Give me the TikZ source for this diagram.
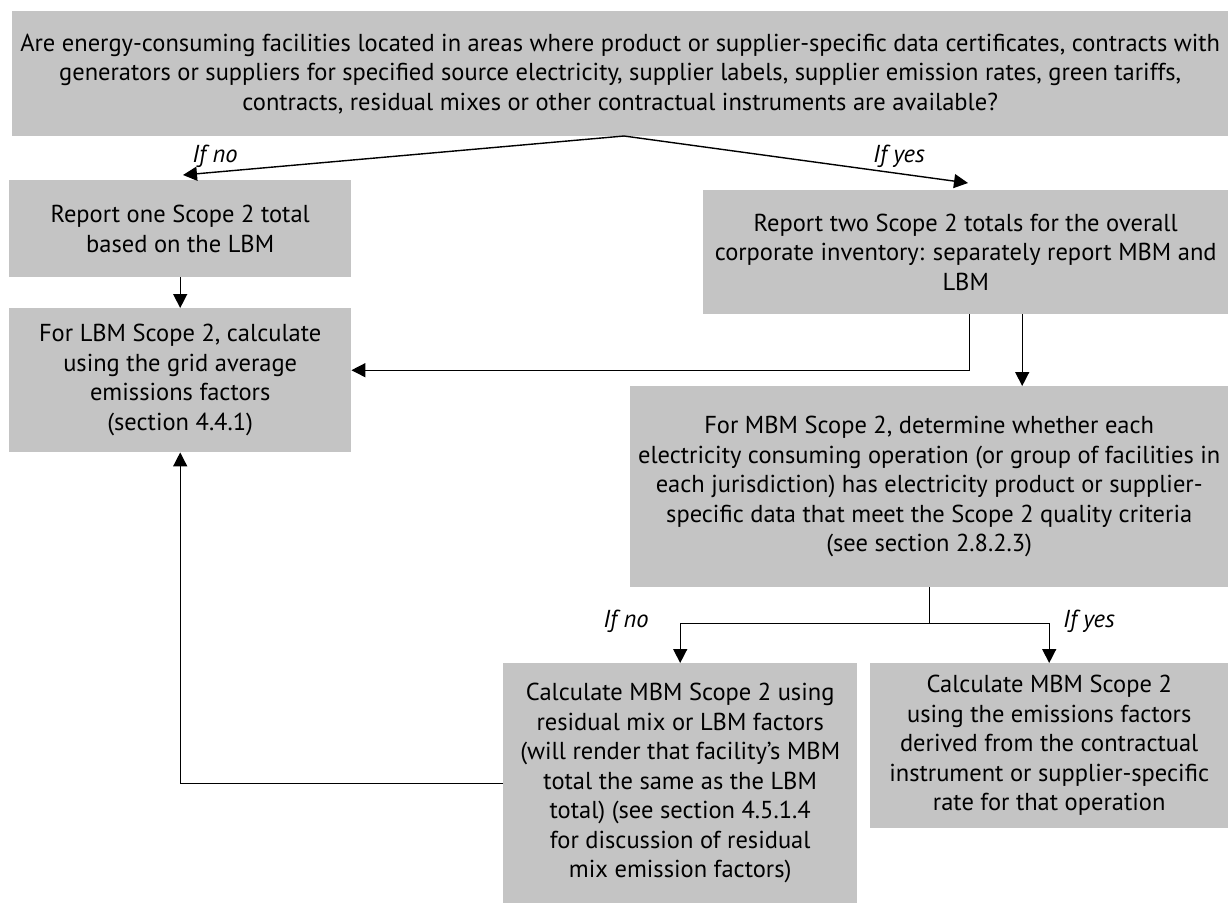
\documentclass[tikz,border=0pt]{standalone}
\usepackage{fontspec}
\setmainfont{PT Sans}
\usetikzlibrary{arrows.meta,calc}
\definecolor{boxgray}{RGB}{196,196,196}
\tikzset{
  box/.style={fill=boxgray, draw=none, anchor=north west, inner sep=0pt, align=center,
    font=\fontsize{24.5}{29.5}\selectfont},
  conn/.style={line width=1.4pt, draw=black},
  arr/.style={conn, -{Triangle[length=14pt,width=14pt]}},
  lbl/.style={font=\fontsize{24.5}{28}\selectfont\itshape, inner sep=0pt}
}
\begin{document}
\begin{tikzpicture}[x=1pt,y=1pt]
\useasboundingbox (0,0) rectangle (1228,-903);
% boxes
\node[box, minimum width=1216pt, minimum height=125pt] (top) at (12,-11)
  {Are energy-consuming facilities located in areas where product or supplier-specific data certificates, contracts with\\
   generators or suppliers for specified source electricity, supplier labels, supplier emission rates, green tariffs,\\
   contracts, residual mixes or other contractual instruments are available?};
\node[box, minimum width=342pt, minimum height=97pt] (b1) at (9,-180)
  {Report one Scope 2 total\\ based on the LBM};
\node[box, minimum width=342pt, minimum height=144pt] (b2) at (9,-308)
  {For LBM Scope 2, calculate\\ using the grid average\\ emissions factors\\ (section 4.4.1)};
\node[box, minimum width=525pt, minimum height=124pt] (r1) at (703,-190)
  {Report two Scope 2 totals for the overall\\ corporate inventory: separately report MBM and\\ LBM};
\node[box, minimum width=598pt, minimum height=201pt] (r2) at (630,-386)
  {For MBM Scope 2, determine whether each\\ electricity consuming operation (or group of facilities in\\ each jurisdiction) has electricity product or supplier-\\ specific data that meet the Scope 2 quality criteria\\ (see section 2.8.2.3)};
\node[box, minimum width=354pt, minimum height=240pt] (l3) at (503,-663)
  {Calculate MBM Scope 2 using\\ residual mix or LBM factors\\ (will render that facility’s MBM\\ total the same as the LBM\\ total) (see section 4.5.1.4\\ for discussion of residual\\ mix emission factors)};
\node[box, minimum width=358pt, minimum height=165pt] (r3) at (870,-663)
  {Calculate MBM Scope 2\\ using the emissions factors\\ derived from the contractual\\ instrument or supplier-specific\\ rate for that operation};
% free ends
\coordinate (apex) at (624,-136);
\coordinate (noend) at (183,-175);
\coordinate (yesend) at (968,-183);
% connectors
\draw[arr] (apex) -- (noend);
\draw[arr] (apex) -- (yesend);
\draw[arr] (b1.south) -- (b2.north);
\draw[arr] ([xshift=3.5pt]r1.south) |- ([yshift=10pt]b2.east);
\draw[arr] ([xshift=56.5pt]r1.south) -- ([xshift=56.5pt]r1.south |- r2.north);
\draw[conn] (r2.south) -- ++(0,-36) coordinate (br);
\draw[arr] (br) -| (l3.north);
\draw[arr] (br) -| (r3.north);
\draw[arr] (l3.west) -| (b2.south);
% labels
\node[lbl] (lno1) at (215,-156) {If no};
\node[lbl] (lyes1) at (899,-156) {If yes};
\node[lbl] (lno2) at (626,-621) {If no};
\node[lbl] (lyes2) at (1089,-621) {If yes};
\end{tikzpicture}
\end{document}
